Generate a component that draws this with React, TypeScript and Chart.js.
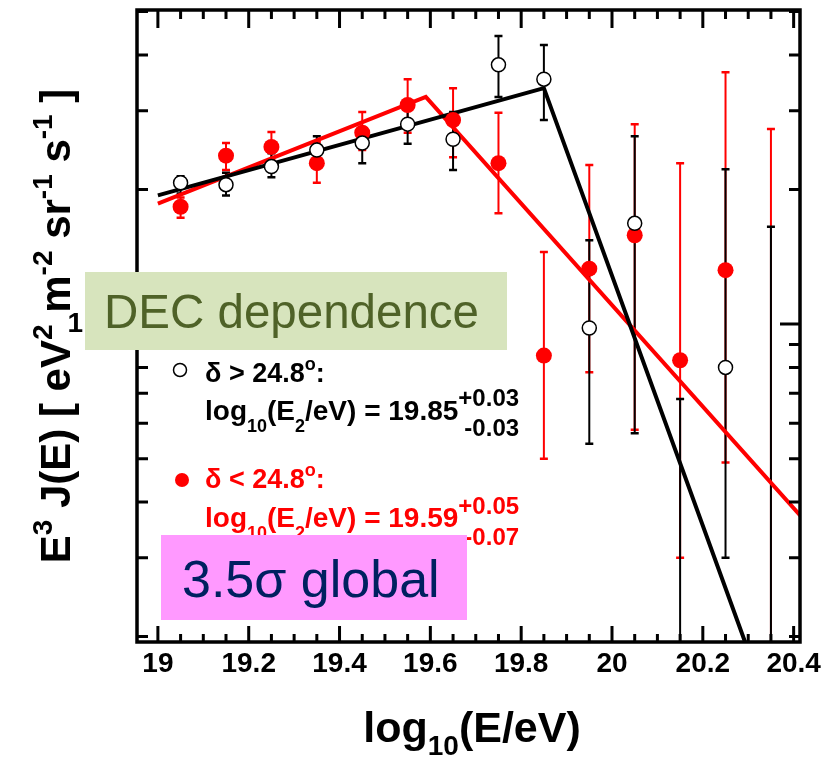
import React, { useEffect, useRef } from 'react';
import { Chart, registerables } from 'chart.js';

Chart.register(...registerables);

// ---------- data ----------
const energyBins = [19.05, 19.15, 19.25, 19.35, 19.45, 19.55, 19.65, 19.75, 19.85, 19.95, 20.05, 20.15, 20.25, 20.35];

// delta > 24.8 deg (open black circles)
const northFlux = [2.07, 2.05, 2.25, 2.45, 2.54, 2.80, 2.59, 3.80, 3.53, 0.98, 1.68, null, 0.80, null];
const northHi = [2.14, 2.18, 2.41, 2.63, 2.75, 3.14, 2.98, 4.41, 4.21, 1.54, 2.63, 0.68, 2.22, 1.65];
const northLo = [1.96, 1.94, 2.13, 2.29, 2.29, 2.53, 2.21, 3.22, 2.86, 0.54, 0.57, 0.1, 0.30, 0.1];

// delta < 24.8 deg (filled red circles)
const southFlux = [1.83, 2.38, 2.49, 2.29, 2.68, 3.09, 2.86, 2.29, 0.85, 1.33, 1.58, 0.83, 1.32, null];
const southHi = [1.92, 2.54, 2.69, 2.55, 2.98, 3.53, 3.37, 2.97, 1.45, 2.27, 2.80, 2.29, 3.66, 2.73];
const southLo = [1.73, 2.21, 2.33, 2.07, 2.45, 2.68, 2.36, 1.77, 0.50, 0.78, 0.58, 0.30, 0.49, 0.1];

// broken power-law fits
const northFitX = [19.0, 19.85, 20.3];
const northFitY = [1.94, 3.37, 0.186];
const southFitX = [19.0, 19.59, 20.42];
const southFitY = [1.86, 3.22, 0.368];

// axes
const xLabelTicks = [19, 19.2, 19.4, 19.6, 19.8, 20, 20.2, 20.4];
const xMinorTicks = Array.from({ length: 29 }, (_, i) => +(19 + i * 0.05).toFixed(2));
const yLabelTicks = [1];
const yMinorTicks = [0.2, 0.3, 0.4, 0.5, 0.6, 0.7, 0.8, 0.9, 1, 2, 3, 4, 5];

const RED = '#ff0000';
const FONT = "'Liberation Sans', Arial, Helvetica, sans-serif";
const B = (s: number) => `bold ${s}px ${FONT}`;
const R = (s: number) => `${s}px ${FONT}`;

type Seg = { t: string; f: string; dy?: number };

function drawRich(ctx: CanvasRenderingContext2D, x: number, y: number, segs: Seg[], align: 'left' | 'center' | 'right', color: string) {
  ctx.save();
  ctx.textBaseline = 'alphabetic';
  ctx.textAlign = 'left';
  ctx.fillStyle = color;
  let total = 0;
  const widths = segs.map((s) => {
    ctx.font = s.f;
    const w = ctx.measureText(s.t).width;
    total += w;
    return w;
  });
  let cx = align === 'center' ? x - total / 2 : align === 'right' ? x - total : x;
  segs.forEach((s, i) => {
    ctx.font = s.f;
    ctx.fillText(s.t, cx, y + (s.dy || 0));
    cx += widths[i];
  });
  ctx.restore();
  return cx;
}

const errorBarPlugin = {
  id: 'errorBars',
  beforeDatasetsDraw(chart: any) {
    const { ctx, chartArea: a } = chart;
    const xs = chart.scales.x;
    const ys = chart.scales.y;
    ctx.save();
    ctx.beginPath();
    ctx.rect(a.left, a.top, a.right - a.left, a.bottom - a.top);
    ctx.clip();
    const draw = (lo: number[], hi: number[], color: string) => {
      ctx.strokeStyle = color;
      energyBins.forEach((e, i) => {
        const px = xs.getPixelForValue(e);
        const p1 = ys.getPixelForValue(hi[i]);
        const p2 = ys.getPixelForValue(lo[i]);
        ctx.lineWidth = 2;
        ctx.beginPath();
        ctx.moveTo(px, p1);
        ctx.lineTo(px, p2);
        ctx.stroke();
        ctx.lineWidth = 2.5;
        ctx.beginPath();
        ctx.moveTo(px - 4, p1);
        ctx.lineTo(px + 4, p1);
        ctx.moveTo(px - 4, p2);
        ctx.lineTo(px + 4, p2);
        ctx.stroke();
      });
    };
    draw(southLo, southHi, RED);
    draw(northLo, northHi, '#000');
    ctx.restore();
  },
};

const decorPlugin = {
  id: 'decor',
  afterDraw(chart: any) {
    const { ctx, chartArea: a } = chart;
    const xs = chart.scales.x;
    const ys = chart.scales.y;
    ctx.save();
    // inner ticks
    ctx.strokeStyle = '#000';
    ctx.lineWidth = 3;
    ctx.beginPath();
    xMinorTicks.forEach((v) => {
      const px = xs.getPixelForValue(v);
      const major = xLabelTicks.some((m) => Math.abs(m - v) < 1e-6);
      const lt = major ? 18 : 9;
      const lb = major ? 16 : 8;
      ctx.moveTo(px, a.top);
      ctx.lineTo(px, a.top + lt);
      ctx.moveTo(px, a.bottom);
      ctx.lineTo(px, a.bottom - lb);
    });
    yMinorTicks.forEach((v) => {
      const py = ys.getPixelForValue(v);
      const len = yLabelTicks.includes(v) ? 20 : 11;
      ctx.moveTo(a.left, py);
      ctx.lineTo(a.left + len, py);
      ctx.moveTo(a.right, py);
      ctx.lineTo(a.right - len, py);
    });
    ctx.stroke();
    // frame
    ctx.lineWidth = 3.5;
    ctx.strokeRect(a.left, a.top, a.right - a.left, a.bottom - a.top);

    // legend: delta > 24.8
    ctx.lineWidth = 1.5;
    ctx.strokeStyle = '#000';
    ctx.fillStyle = '#fff';
    ctx.beginPath();
    ctx.arc(180, 370, 6.5, 0, Math.PI * 2);
    ctx.fill();
    ctx.stroke();
    drawRich(ctx, 205, 382, [
      { t: 'δ > 24.8', f: B(27) },
      { t: 'o', f: B(18), dy: -12 },
      { t: ':', f: B(27) },
    ], 'left', '#000');
    let ex = drawRich(ctx, 205, 420, [
      { t: 'log', f: B(28) },
      { t: '10', f: B(18), dy: 12 },
      { t: '(E', f: B(28) },
      { t: '2', f: B(18), dy: 12 },
      { t: '/eV) = 19.85', f: B(28) },
    ], 'left', '#000');
    let sx = drawRich(ctx, ex, 406, [{ t: '+0.03', f: B(24) }], 'left', '#000');
    drawRich(ctx, sx, 436, [{ t: '-0.03', f: B(24) }], 'right', '#000');

    // legend: delta < 24.8
    ctx.fillStyle = RED;
    ctx.beginPath();
    ctx.arc(182, 480, 7, 0, Math.PI * 2);
    ctx.fill();
    drawRich(ctx, 205, 488, [
      { t: 'δ < 24.8', f: B(27) },
      { t: 'o', f: B(18), dy: -12 },
      { t: ':', f: B(27) },
    ], 'left', RED);
    ex = drawRich(ctx, 205, 527, [
      { t: 'log', f: B(28) },
      { t: '10', f: B(18), dy: 12 },
      { t: '(E', f: B(28) },
      { t: '2', f: B(18), dy: 12 },
      { t: '/eV) = 19.59', f: B(28) },
    ], 'left', RED);
    sx = drawRich(ctx, ex, 514, [{ t: '+0.05', f: B(24) }], 'left', RED);
    drawRich(ctx, sx, 545, [{ t: '-0.07', f: B(24) }], 'right', RED);

    // annotation boxes
    ctx.fillStyle = '#d7e4bd';
    ctx.fillRect(85, 272, 422, 78);
    drawRich(ctx, 104, 328, [{ t: 'DEC dependence', f: R(47.5) }], 'left', '#4f6228');
    ctx.fillStyle = '#ff99ff';
    ctx.fillRect(161, 535, 306, 85);
    drawRich(ctx, 182, 597, [{ t: '3.5σ global', f: R(52) }], 'left', '#002060');

    // x axis title
    drawRich(ctx, 472, 742, [
      { t: 'log', f: B(43) },
      { t: '10', f: B(28), dy: 13 },
      { t: '(E/eV)', f: B(43) },
    ], 'center', '#000');

    // y axis title
    ctx.save();
    ctx.translate(70, 326);
    ctx.rotate(-Math.PI / 2);
    const M = B(42);
    const S = B(28);
    drawRich(ctx, 0, 0, [
      { t: 'E', f: M },
      { t: '3', f: S, dy: -18 },
      { t: ' J(E) [ eV', f: M },
      { t: '2', f: S, dy: -18 },
      { t: ' m', f: M },
      { t: '-2', f: S, dy: -18 },
      { t: ' sr', f: M },
      { t: '-1', f: S, dy: -18 },
      { t: ' s', f: M },
      { t: '-1', f: S, dy: -18 },
      { t: ' ]', f: M },
    ], 'center', '#000');
    ctx.restore();
    ctx.restore();
  },
};

export default function App() {
  const ref = useRef<HTMLCanvasElement>(null);
  useEffect(() => {
    const toXY = (xs: number[], ys: (number | null)[]) => xs.map((x, i) => ({ x, y: ys[i] }));
    const chart = new Chart(ref.current as HTMLCanvasElement, {
      type: 'scatter',
      data: {
        datasets: [
          {
            label: 'δ > 24.8° data',
            data: toXY(energyBins, northFlux) as any,
            pointStyle: 'circle',
            pointRadius: 7,
            pointBorderWidth: 1.5,
            borderColor: '#000',
            backgroundColor: '#fff',
            order: 0,
          },
          {
            label: 'δ < 24.8° data',
            data: toXY(energyBins, southFlux) as any,
            pointStyle: 'circle',
            pointRadius: 8,
            pointBorderWidth: 0,
            borderColor: RED,
            backgroundColor: RED,
            order: 1,
          },
          {
            type: 'line',
            label: 'δ > 24.8° fit',
            data: toXY(northFitX, northFitY) as any,
            borderColor: '#000',
            borderWidth: 4,
            pointRadius: 0,
            fill: false,
            tension: 0,
            clip: 0,
            order: 2,
          } as any,
          {
            type: 'line',
            label: 'δ < 24.8° fit',
            data: toXY(southFitX, southFitY) as any,
            borderColor: RED,
            borderWidth: 4,
            pointRadius: 0,
            fill: false,
            tension: 0,
            clip: 0,
            order: 3,
          } as any,
        ],
      },
      options: {
        responsive: false,
        animation: false,
        layout: { padding: { top: 10, right: 38, left: 0, bottom: 0 } },
        plugins: { legend: { display: false }, tooltip: { enabled: false } },
        scales: {
          x: {
            type: 'linear',
            min: 18.954,
            max: 20.414,
            grid: { display: false, drawTicks: false },
            border: { display: false },
            afterBuildTicks: (s: any) => {
              s.ticks = xLabelTicks.map((v) => ({ value: v }));
            },
            afterFit: (s: any) => {
              s.height = 120;
              s.paddingLeft = 0;
              s.paddingRight = 0;
            },
            ticks: {
              autoSkip: false,
              maxRotation: 0,
              padding: 5,
              color: '#000',
              font: { family: FONT, size: 28, weight: 'bold' },
              callback: (v: any) => String(Number(Number(v).toFixed(1))),
            },
          },
          y: {
            type: 'logarithmic',
            min: 0.1945,
            max: 5.04,
            grid: { display: false, drawTicks: false },
            border: { display: false },
            afterBuildTicks: (s: any) => {
              s.ticks = yLabelTicks.map((v) => ({ value: v }));
            },
            afterFit: (s: any) => {
              s.width = 137;
              s.paddingTop = 0;
              s.paddingBottom = 0;
            },
            ticks: {
              padding: 54,
              color: '#000',
              font: { family: FONT, size: 28, weight: 'bold' },
              callback: (v: any) => String(v),
            },
          },
        },
      },
      plugins: [errorBarPlugin, decorPlugin],
    });
    return () => chart.destroy();
  }, []);
  return (
    <div style={{ position: 'absolute', left: 0, top: 0, width: 838, height: 762, background: '#fff' }}>
      <canvas ref={ref} width={838} height={762} style={{ display: 'block', width: 838, height: 762 }} />
    </div>
  );
}
